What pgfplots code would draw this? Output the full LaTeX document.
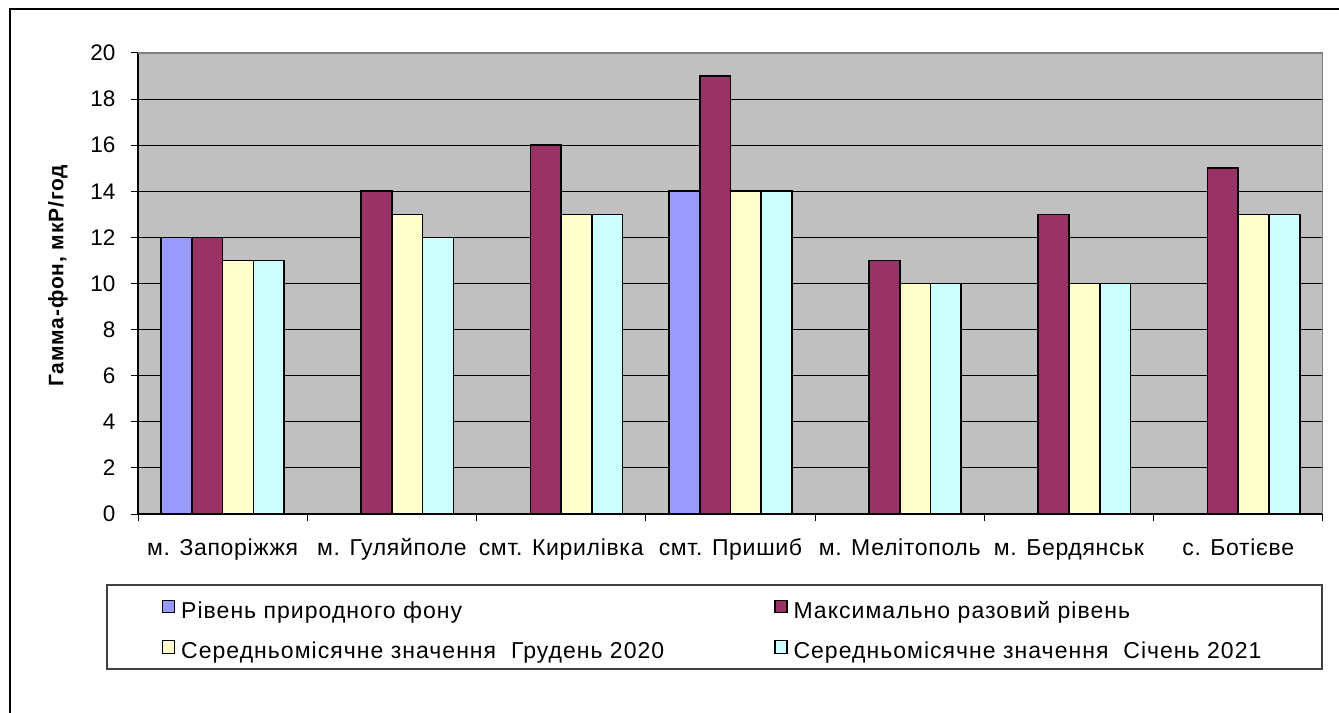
\documentclass[border=0pt]{standalone}
\usepackage{fontspec}
\setmainfont{Liberation Sans}
\newfontfamily\widefont[LetterSpace=3]{Liberation Sans}
\newfontfamily\legfont[LetterSpace=4.5]{Liberation Sans}
\newfontfamily\widebold[LetterSpace=4]{Liberation Sans Bold}
\usepackage{pgfplots}
\pgfplotsset{compat=1.18}
\definecolor{cA}{HTML}{9999FF}
\definecolor{cB}{HTML}{993366}
\definecolor{cC}{HTML}{FFFFCC}
\definecolor{cD}{HTML}{CCFFFF}
\definecolor{plotbg}{HTML}{C0C0C0}
\definecolor{frame}{HTML}{808080}
\begin{document}
\begin{tikzpicture}
\useasboundingbox (0bp,0bp) rectangle (1339bp,713bp);
\draw[line width=2bp] (9.5bp,-5bp) -- (9.5bp,703.5bp) -- (1345bp,703.5bp);
\begin{axis}[
  at={(138bp,199bp)}, anchor=south west,
  scale only axis, width=1185bp, height=461bp,
  ybar=0pt, bar width=30.75bp,
  ymin=0, ymax=20, ytick={0,2,...,20},
  xmin=-0.5, xmax=6.5,
  xtick={0,...,6},
  xticklabels={м. Запоріжжя, м. Гуляйполе, смт. Кирилівка, смт. Пришиб, м. Мелітополь, м. Бердянськ, с. Ботієве},
  major x tick style={draw=none},
  minor xtick={-0.5,0.5,...,6.5},
  tick align=outside,
  major tick length=7bp, minor tick length=7bp,
  tick style={black, line width=1bp},
  axis x line*=bottom, axis y line*=left,
  axis line style={black, line width=1.3bp},
  axis background/.style={fill=plotbg},
  ymajorgrids, grid style={black, line width=1bp},
  /pgf/number format/assume math mode=true,
  yticklabel style={font=\fontsize{22.5bp}{26bp}\selectfont, anchor=east, xshift=-12bp},
  xticklabel style={font=\fontsize{23bp}{26bp}\widefont, anchor=base, yshift=-34bp},
  ylabel={Гамма-фон, мкР/год},
  every axis y label/.style={at={(axis description cs:-0.0675,0.517)}, rotate=90, anchor=center,
     font=\fontsize{21bp}{24bp}\widebold},
  legend columns=2,
  legend cell align=left,
  legend image code/.code={\draw[#1, line width=1.2bp] (0bp,0bp) rectangle (12bp,12.5bp);},
  legend style={draw=none, fill=none, inner sep=0pt, outer sep=0pt,
    at={(axis description cs:0.02025,-0.1855)}, anchor=north west,
    font=\fontsize{23bp}{26bp}\legfont,
    nodes={inner sep=0pt, text height=15bp, text depth=4bp},
    row sep=18bp,
    /tikz/every odd column/.append style={column sep=6bp},
    /tikz/every even column/.append style={column sep=110bp}},
  every axis plot/.append style={draw=black, line width=1.6bp},
]
\addplot[fill=cA] coordinates {(0,12) (3,14)};
\addplot[fill=cB] coordinates {(0,12) (1,14) (2,16) (3,19) (4,11) (5,13) (6,15)};
\addplot[fill=cC] coordinates {(0,11) (1,13) (2,13) (3,14) (4,10) (5,10) (6,13)};
\addplot[fill=cD] coordinates {(0,11) (1,12) (2,13) (3,14) (4,10) (5,10) (6,13)};
\legend{Рівень природного фону, Максимально разовий рівень, Середньомісячне значення\ \ Грудень 2020, Середньомісячне значення\ \ Січень 2021}
\draw[frame, line width=2bp] (rel axis cs:0,1) -- (rel axis cs:1,1) -- (rel axis cs:1,0);
\end{axis}
\draw[black!75, line width=1.3bp] (107bp,44bp) rectangle (1322bp,128bp);
\end{tikzpicture}
\end{document}
